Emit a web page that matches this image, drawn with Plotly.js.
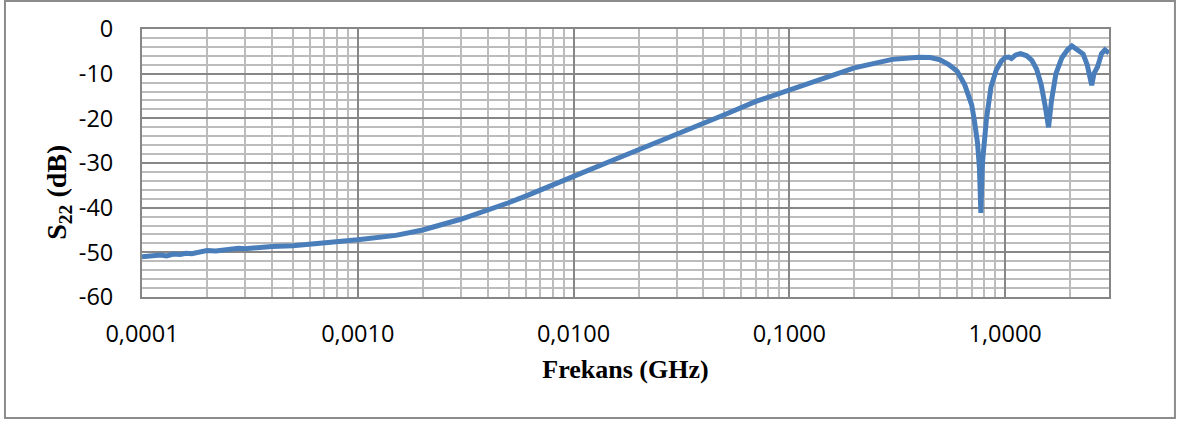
<!DOCTYPE html>
<html>
<head>
<meta charset="utf-8">
<script src="https://cdn.plot.ly/plotly-3.0.1.min.js"></script>
<style>html,body{margin:0;padding:0;background:#fff;}#chart{width:1180px;height:423px;}</style>
</head>
<body>
<div id="chart"></div>
<script>
// Frequency (GHz) and S22 (dB)
const freqGHz = [
  0.0001, 0.000108, 0.000115, 0.000122, 0.00013, 0.00014, 0.00015, 0.00016, 0.00017, 0.00018,
  0.0002, 0.00022, 0.00025, 0.00028, 0.0003, 0.00035, 0.0004, 0.0005, 0.0006, 0.0007, 0.0008,
  0.001, 0.0015, 0.002, 0.003, 0.004, 0.005, 0.006, 0.008, 0.01, 0.015, 0.02, 0.03, 0.04, 0.05,
  0.07, 0.1, 0.15, 0.2, 0.3, 0.4, 0.45, 0.5, 0.55, 0.6, 0.65, 0.70, 0.72, 0.745, 0.76, 0.772,
  0.785, 0.80, 0.82, 0.86, 0.91, 0.96, 1.0, 1.04, 1.07, 1.12, 1.18, 1.26, 1.33, 1.40, 1.47,
  1.53, 1.59, 1.64, 1.72, 1.83, 1.95, 2.04, 2.12, 2.2, 2.3, 2.4, 2.52, 2.58, 2.68, 2.8, 2.9, 3.03
];
const s22dB = [
  -51.0, -50.8, -50.9, -50.6, -50.8, -50.4, -50.5, -50.2, -50.3, -50.0,
  -49.6, -49.7, -49.3, -49.1, -49.2, -48.9, -48.7, -48.5, -48.2, -47.9, -47.6,
  -47.2, -46.2, -45.0, -42.6, -40.6, -38.9, -37.4, -34.8, -33.0, -29.5, -27.1, -23.5, -21.1, -19.2,
  -16.2, -13.6, -10.6, -8.7, -6.8, -6.3, -6.4, -6.9, -8.0, -9.5, -12.5, -17.0, -20.4, -25.5, -31.0, -41.2,
  -30.0, -24.0, -20.0, -13.0, -9.2, -7.2, -6.4, -6.3, -6.6, -5.8, -5.5, -6.0, -7.0, -9.0, -12.5,
  -17.0, -22.0, -16.0, -10.0, -6.5, -4.6, -3.8, -4.4, -4.8, -5.6, -8.0, -12.6, -10.0, -8.5, -5.5, -4.7, -5.4
];
const yTickVals = [-60, -50, -40, -30, -20, -10, 0];
const yTickText = yTickVals.map(v => String(v));

const xTitle = 'Frekans (GHz)';
const yTitle = '<b>S<sub>22</sub> (dB)</b>';

const trace = {
  x: freqGHz, y: s22dB, type: 'scatter', mode: 'lines',
  line: {color: '#4A7EBB', width: 5},
  hoverinfo: 'skip'
};

const majorGrid = '#878787', minorGrid = '#BCBCBC';
const tickFont = {family: 'Open Sans', size: 23.5, color: '#000'};
const layout = {
  width: 1180, height: 423,
  margin: {l: 142, r: 71, t: 29, b: 126},
  paper_bgcolor: '#ffffff', plot_bgcolor: '#ffffff',
  separators: ',.',
  showlegend: false,
  font: {family: 'Open Sans', size: 22, color: '#000'},
  xaxis: {
    type: 'log', range: [-4, Math.log10(3.03)],
    tickmode: 'linear', tick0: 0, dtick: 1, tickformat: '.4f',
    showgrid: true, gridcolor: majorGrid, gridwidth: 2,
    minor: {dtick: 'D1', showgrid: true, gridcolor: minorGrid, gridwidth: 2, ticks: ''},
    showline: true, linecolor: majorGrid, linewidth: 2, mirror: true,
    ticks: '', ticklabelstandoff: 15, zeroline: false,
    tickfont: tickFont,
    title: {text: xTitle, font: {family: 'Liberation Serif', size: 26, color: '#000', weight: 'bold'}, standoff: 12}
  },
  yaxis: {
    range: [-60, 0], tickmode: 'array', tickvals: yTickVals, ticktext: yTickText,
    showgrid: true, gridcolor: majorGrid, gridwidth: 2,
    minor: {dtick: 2, tick0: 0, showgrid: true, gridcolor: minorGrid, gridwidth: 2, ticks: ''},
    showline: true, linecolor: majorGrid, linewidth: 2, mirror: true,
    ticks: '', ticklabelstandoff: 22, zeroline: false,
    tickfont: tickFont
  },
  annotations: [{
    text: yTitle, xref: 'paper', yref: 'paper', x: -0.086, y: 0.392,
    xanchor: 'center', yanchor: 'middle', textangle: -90, showarrow: false,
    font: {family: 'Liberation Serif', size: 28, color: '#000'}
  }],
  shapes: [{
    type: 'rect', xref: 'paper', yref: 'paper', layer: 'below',
    x0: -0.1417, x1: 1.0682, y0: -0.4515, y1: 1.1045,
    line: {color: '#8C8C8C', width: 2}
  }]
};

Plotly.newPlot('chart', [trace], layout, {staticPlot: true, displayModeBar: false});
</script>
</body>
</html>
